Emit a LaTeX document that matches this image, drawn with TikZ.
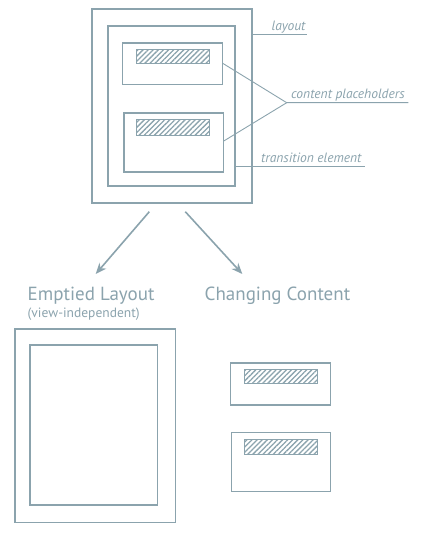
\documentclass[tikz,border=0pt]{standalone}
\usepackage{fontspec}
\setmainfont{PT Sans}
\usepackage{tikz}
\usetikzlibrary{patterns.meta,arrows.meta}

\definecolor{frame}{RGB}{139,163,173}

\tikzset{
  box/.style={draw=frame,line width=1.6pt,inner sep=0pt,anchor=north west},
  thinbox/.style={draw=frame,line width=1.3pt,inner sep=0pt,anchor=north west},
  hatch/.style={draw=frame,line width=1.1pt,inner sep=0pt,anchor=north west,
    pattern={Lines[angle=45,distance=3.6pt,line width=1.3pt]},pattern color=frame},
  tag/.style={font=\itshape\fontsize{13.5}{15}\selectfont,text=frame,inner sep=0pt,anchor=base west},
  head/.style={font=\fontsize{19}{22}\selectfont,text=frame,inner sep=0pt,anchor=base west},
  lead/.style={draw=frame,line width=0.9pt},
  split/.style={draw=frame,line width=1.6pt,-{Stealth[length=11pt,width=9pt]}}
}

\begin{document}
\begin{tikzpicture}[x=1pt,y=-1pt]
  \useasboundingbox (0,0) rectangle (424,534);

  % layout mit Platzhaltern
  \node[box,minimum width=160pt,minimum height=194pt] (layout) at (91,8) {};
  \node[box,minimum width=127pt,minimum height=160pt] (trans) at (107.3,25.3) {};
  \node[thinbox,minimum width=99.7pt,minimum height=41.7pt] (ph1) at (122,42.3) {};
  \node[hatch,minimum width=73pt,minimum height=14pt] (bar1) at (135.7,49.3) {};
  \node[thinbox,minimum width=99.4pt,minimum height=59pt] (ph2) at (123.3,112.3) {};
  \node[hatch,minimum width=73pt,minimum height=15.7pt] (bar2) at (135.7,119) {};

  % Beschriftungen
  \node[tag] (tlayout) at (271.5,30.5) {layout};
  \coordinate (l1) at (251.7,34.7);
  \coordinate (l2) at (306.7,34.7);
  \draw[lead] (l1) -- (l2);

  \node[tag] (tcontent) at (291,99) {content placeholders};
  \coordinate (c0) at (286.7,102.7);
  \coordinate (c1) at (408.3,102.7);
  \coordinate (p1) at (222.7,63.3);
  \coordinate (p2) at (223.3,141.3);
  \draw[lead] (p1) -- (c0) -- (c1);
  \draw[lead] (p2) -- (c0);

  \node[tag] (ttrans) at (261,162.5) {transition element};
  \coordinate (t1) at (236,166.7);
  \coordinate (t2) at (365,166.7);
  \draw[lead] (t1) -- (t2);

  % Aufteilung
  \coordinate (a0) at (149.3,211.7);
  \coordinate (a1) at (95.7,274);
  \coordinate (b0) at (185.3,211.7);
  \coordinate (b1) at (242.3,274);
  \draw[split] (a0) -- (a1);
  \draw[split] (b0) -- (b1);

  \node[head] (hempty) at (27.5,300.5) {Emptied Layout};
  \node[tag,font=\fontsize{13.5}{15}\selectfont] (hview) at (27.5,317) {(view-independent)};
  \node[head] (hchange) at (204.5,300.5) {Changing Content};

  % leeres Layout
  \node[box,minimum width=160.7pt,minimum height=193.4pt] (empty) at (14,328.3) {};
  \node[box,minimum width=127.4pt,minimum height=160pt] (emptyin) at (29.3,344.3) {};

  % Inhalte
  \node[thinbox,minimum width=100pt,minimum height=42pt] (ch1) at (230,362.3) {};
  \node[hatch,minimum width=72.7pt,minimum height=14pt] (cbar1) at (244,369.3) {};
  \node[thinbox,minimum width=99pt,minimum height=58.7pt] (ch2) at (231,432) {};
  \node[hatch,minimum width=72.7pt,minimum height=14.7pt] (cbar2) at (244,439) {};
\end{tikzpicture}
\end{document}
